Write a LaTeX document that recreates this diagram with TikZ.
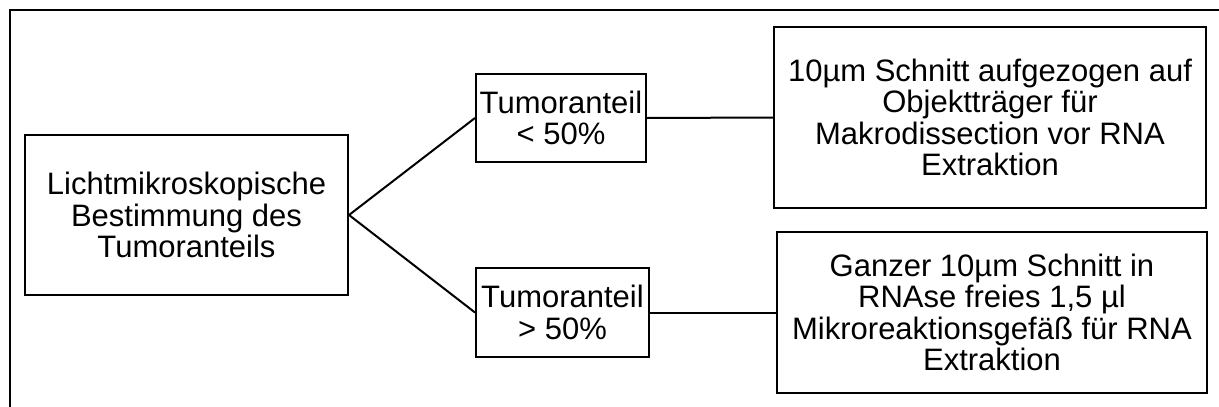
\documentclass[tikz,border=0pt]{standalone}
\usepackage{fontspec}
\setmainfont{Liberation Sans}
\usepackage{tikz}

\begin{document}
\begin{tikzpicture}[x=1pt,y=-1pt,line width=2pt,
  box/.style={draw,align=center,inner sep=0pt,font=\fontsize{31}{31.5}\selectfont}]
\useasboundingbox (0,0) rectangle (1219,407);
\draw (10,407) -- (10,10) -- (1219,10);
\node (licht) at (186.5,215) [box,minimum width=323pt,minimum height=160pt] {Lichtmikroskopische\\Bestimmung des\\Tumoranteils};
\node (klein) at (561,118) [box,minimum width=170pt,minimum height=88pt] {Tumoranteil\\< 50\%};
\node (gross) at (562.5,312.5) [box,minimum width=173pt,minimum height=89pt] {Tumoranteil\\> 50\%};
\node (objekt) at (990,117.5) [box,minimum width=432pt,minimum height=181pt] {10µm Schnitt aufgezogen auf\\Objektträger für\\Makrodissection vor RNA\\Extraktion};
\node (gefaess) at (992,312.5) [box,minimum width=430pt,minimum height=161pt] {Ganzer 10µm Schnitt in\\RNAse freies 1,5 µl\\Mikroreaktionsgefäß für RNA\\Extraktion};
\draw (licht.east) -- (klein.west);
\draw (licht.east) -- (gross.west);
\draw (klein.east) -- (objekt.west);
\draw (gross.east) -- (gefaess.west);
\end{tikzpicture}
\end{document}
